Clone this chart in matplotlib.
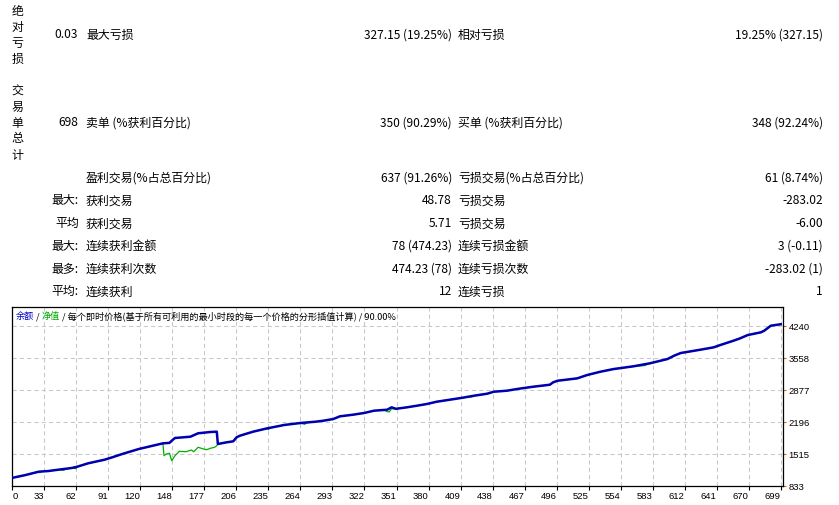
import matplotlib
matplotlib.use('Agg')
import matplotlib.pyplot as plt
import numpy as np

W, H = 839, 506
plt.rcParams['font.family'] = ['Noto Sans CJK SC', 'DejaVu Sans']
fig = plt.figure(figsize=(W / 100, H / 100), dpi=100)
fig.patch.set_facecolor('white')

# ---------------- table data ----------------
group_labels = ['绝对亏损', '交易单总计']
group_values = ['0.03', '698']
group_left_labels = ['最大亏损', '卖单 (%获利百分比)']
group_mid_values = ['327.15 (19.25%)', '350 (90.29%)']
group_right_labels = ['相对亏损', '买单 (%获利百分比)']
group_right_values = ['19.25% (327.15)', '348 (92.24%)']

row_prefixes = ['', '最大:', '平均', '最大:', '最多:', '平均:']
row_left_labels = ['盈利交易(%占总百分比)', '获利交易', '获利交易', '连续获利金额', '连续获利次数', '连续获利']
row_left_values = ['637 (91.26%)', '48.78', '5.71', '78 (474.23)', '474.23 (78)', '12']
row_right_labels = ['亏损交易(%占总百分比)', '亏损交易', '亏损交易', '连续亏损金额', '连续亏损次数', '连续亏损']
row_right_values = ['61 (8.74%)', '-283.02', '-6.00', '3 (-0.11)', '-283.02 (1)', '1']

# ---------------- chart data ----------------
balance_trades = [0, 12, 24, 33, 42, 54, 59, 69, 84, 91, 100, 115, 127, 137, 143, 145, 148, 162, 169,
                  180, 186, 187, 195, 201, 204, 207, 219, 232, 244, 247, 262, 276, 283, 292, 298, 310,
                  320, 329, 341, 345, 349, 359, 368, 377, 386, 398, 408, 420, 432, 438, 450, 460, 474,
                  489, 492, 496, 514, 523, 535, 547, 565, 580, 596, 602, 608, 626, 638, 644, 656, 662,
                  669, 681, 684, 690, 699]
balance_values = [1000, 1060, 1131, 1146, 1174, 1210, 1237, 1310, 1387, 1438, 1508, 1614, 1680, 1735,
                  1745, 1791, 1849, 1876, 1949, 1976, 1983, 1721, 1757, 1778, 1863, 1897, 1983, 2055,
                  2110, 2125, 2168, 2196, 2217, 2253, 2310, 2345, 2381, 2430, 2451, 2502, 2470, 2502,
                  2536, 2572, 2621, 2664, 2700, 2749, 2792, 2834, 2856, 2895, 2941, 2983, 3034, 3068,
                  3119, 3190, 3260, 3317, 3375, 3439, 3530, 3601, 3658, 3729, 3779, 3828, 3920, 3970,
                  4041, 4099, 4133, 4240, 4271]

equity_trades = [0, 12, 24, 25, 26, 33, 42, 47, 48, 54, 58, 59, 69, 84, 91, 100, 115, 127, 137, 138,
                 140, 143, 145, 148, 152, 158, 163, 165, 169, 174, 177, 180, 184, 186, 187, 195, 201,
                 204, 207, 219, 232, 233, 234, 244, 247, 262, 266, 268, 276, 283, 292, 298, 310, 320,
                 329, 338, 341, 343, 345, 349, 359, 368, 377, 386, 398, 408, 418, 420, 432, 438, 450,
                 460, 474, 489, 492, 496, 514, 523, 535, 547, 565, 575, 580, 596, 602, 608, 626, 638,
                 644, 656, 662, 669, 681, 684, 690, 699]
equity_values = [1000, 1060, 1131, 1110, 1135, 1146, 1174, 1160, 1185, 1210, 1195, 1237, 1310, 1387,
                 1438, 1508, 1614, 1680, 1735, 1472, 1508, 1523, 1365, 1472, 1565, 1557, 1593, 1557,
                 1651, 1614, 1600, 1629, 1651, 1685, 1721, 1757, 1778, 1863, 1897, 1983, 2055, 2025,
                 2060, 2110, 2125, 2168, 2140, 2175, 2196, 2217, 2253, 2310, 2345, 2381, 2430, 2445,
                 2410, 2405, 2470, 2470, 2502, 2536, 2572, 2621, 2664, 2700, 2725, 2749, 2792, 2834,
                 2856, 2895, 2941, 2983, 3034, 3068, 3119, 3190, 3260, 3317, 3375, 3390, 3439, 3530,
                 3601, 3658, 3729, 3779, 3828, 3920, 3970, 4041, 4099, 4133, 4240, 4271]

x_tick_labels = ['0', '33', '62', '91', '120', '148', '177', '206', '235', '264', '293', '322', '351',
                 '380', '409', '438', '467', '496', '525', '554', '583', '612', '641', '670', '699']
y_ticks = [833, 1515, 2196, 2877, 3558, 4240]
n_trades = 699

title_parts = [('余额', '#0000c0'), (' / ', '#000000'), ('净值', '#00a800'),
               (' / 每个即时价格(基于所有可利用的最小时段的每一个价格的分形插值计算) / 90.00%', '#000000')]


def fx(px):
    return px / W


def fy(py):
    return 1 - py / H


FS = 8.6
TXT = '#000000'

# ---------------- table ----------------
group_y = [35, 123]
for i in range(len(group_labels)):
    y0 = group_y[i]
    chars = list(group_labels[i])
    step = 16
    top = y0 - step * (len(chars) - 1) / 2
    for k, ch in enumerate(chars):
        fig.text(fx(17.5), fy(top + k * step), ch, ha='center', va='center', fontsize=FS, color=TXT)
    fig.text(fx(78), fy(y0), group_values[i], ha='right', va='center', fontsize=FS, color=TXT)
    fig.text(fx(86), fy(y0), group_left_labels[i], ha='left', va='center', fontsize=FS, color=TXT)
    fig.text(fx(452), fy(y0), group_mid_values[i], ha='right', va='center', fontsize=FS, color=TXT)
    fig.text(fx(458), fy(y0), group_right_labels[i], ha='left', va='center', fontsize=FS, color=TXT)
    fig.text(fx(823), fy(y0), group_right_values[i], ha='right', va='center', fontsize=FS, color=TXT)

for i in range(len(row_left_labels)):
    y0 = 178.3 + 22.7 * i
    if row_prefixes[i]:
        fig.text(fx(79), fy(y0), row_prefixes[i], ha='right', va='center', fontsize=FS, color=TXT)
    fig.text(fx(86), fy(y0), row_left_labels[i], ha='left', va='center', fontsize=FS, color=TXT)
    fig.text(fx(452), fy(y0), row_left_values[i], ha='right', va='center', fontsize=FS, color=TXT)
    fig.text(fx(458), fy(y0), row_right_labels[i], ha='left', va='center', fontsize=FS, color=TXT)
    fig.text(fx(823), fy(y0), row_right_values[i], ha='right', va='center', fontsize=FS, color=TXT)

# ---------------- chart ----------------
ax_left, ax_right, ax_top, ax_bot = 12, 783, 308.3, 486.7
ax = fig.add_axes([fx(ax_left), fy(ax_bot), (ax_right - ax_left) / W, (ax_bot - ax_top) / H])
ax.set_facecolor('white')

px_per_trade = (780.7 - 12.3) / n_trades
ax.set_xlim(-(12.3 - ax_left) / px_per_trade, n_trades + (ax_right - 780.7) / px_per_trade)
val_per_px = (y_ticks[-1] - y_ticks[0]) / (ax_bot - 326.7)
ax.set_ylim(y_ticks[0], y_ticks[-1] + (326.7 - ax_top) * val_per_px)

xpos = np.linspace(0, n_trades, len(x_tick_labels))
ax.set_xticks(xpos)
ax.set_xticklabels(x_tick_labels, fontsize=6.8, family=['Liberation Sans'], color='#000000')
for k, lab in enumerate(ax.get_xticklabels()):
    lab.set_ha('left' if k == 0 else 'right')

ax.yaxis.tick_right()
ax.set_yticks(y_ticks)
ax.set_yticklabels([str(v) for v in y_ticks], fontsize=6.8, family=['Liberation Sans'], color='#000000')

ax.tick_params(axis='x', length=3, width=0.8, color='#000000', pad=0.8, direction='out')
ax.tick_params(axis='y', length=2, width=0.8, color='#c87000', pad=2, direction='out')

ax.grid(True, color='#c8c8c8', linestyle=(0, (4, 3)), linewidth=0.75)
ax.set_axisbelow(True)
for s in ax.spines.values():
    s.set_color('#000000')
    s.set_linewidth(0.9)

ax.plot(equity_trades, equity_values, color='#00b000', linewidth=0.9, zorder=3)
ax.plot(balance_trades, balance_values, color='#0000b0', linewidth=1.8, zorder=4)

# multi-coloured title inside the chart
TFS = 6.6
prev = fig.text(fx(16), fy(316.7), title_parts[0][0], ha='left', va='center', fontsize=TFS,
                color=title_parts[0][1], zorder=10)
for s, c in title_parts[1:]:
    prev = ax.annotate(s, xy=(1, 0), xycoords=prev, ha='left', va='bottom', fontsize=TFS, color=c,
                       zorder=10, annotation_clip=False)

fig.savefig('out.png', dpi=100, facecolor='white')
